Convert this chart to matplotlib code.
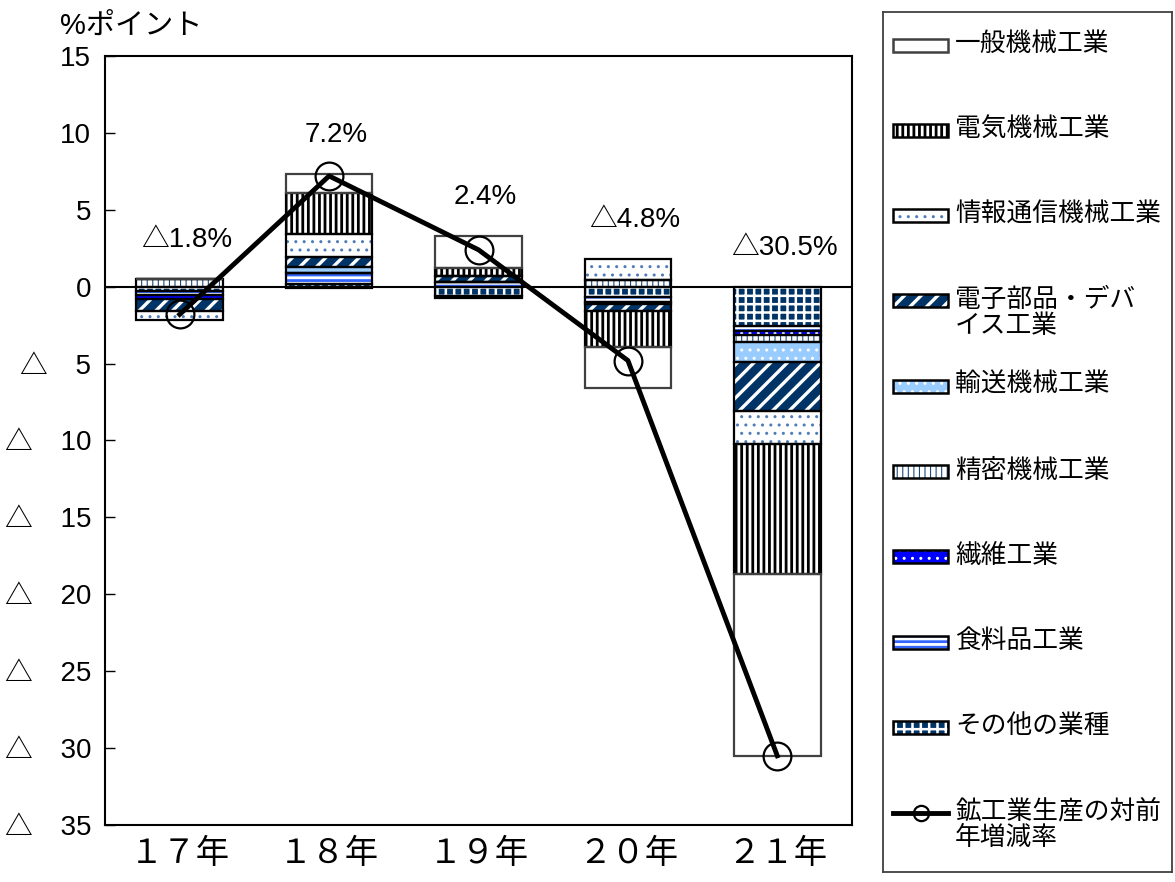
import numpy as np
import matplotlib
matplotlib.use("Agg")
import matplotlib.pyplot as plt
from matplotlib.patches import Rectangle
from matplotlib.lines import Line2D

plt.rcParams['font.family'] = ['Noto Sans CJK JP', 'DejaVu Sans']
plt.rcParams['hatch.linewidth'] = 1.5
NUMFONT = ['Liberation Sans', 'Noto Sans CJK JP']

years = ['１７年', '１８年', '１９年', '２０年', '２１年']
industries = ['一般機械工業', '電気機械工業', '情報通信機械工業', '電子部品・デバ\nイス工業',
              '輸送機械工業', '精密機械工業', '繊維工業', '食料品工業', 'その他の業種']

# contributions (%pt) per industry, years 17..21
ippan = [0.0, 1.25, 2.1, -2.7, -11.8]
denki = [0.0, 2.65, 0.5, -2.3, -8.5]
joho = [-0.6, 1.55, 0.0, 1.35, -2.1]
denshi = [-0.75, 0.65, 0.4, -0.45, -3.2]
yuso = [0.0, 0.35, 0.0, 0.0, -1.3]
seimitsu = [0.5, 0.0, 0.0, 0.45, -0.45]
seni = [-0.25, -0.1, -0.15, -0.15, -0.3]
shokuryo = [-0.3, 0.7, 0.3, -0.35, -0.3]
sonota = [-0.25, 0.2, -0.6, -0.65, -2.55]
growth = [-1.8, 7.2, 2.4, -4.8, -30.5]

series = [ippan, denki, joho, denshi, yuso, seimitsu, seni, shokuryo, sonota]

# face, hatch, hatch colour, hatch lw, outline colour
styles = [
    ('white', '', 'white', 1.0, '#404040'),
    ('white', '|||', 'black', 2.0, 'black'),
    ('white', '..', '#4f7cb8', 1.0, 'black'),
    ('#003366', '//', 'white', 2.4, 'black'),
    ('#99ccff', '..', 'white', 1.0, 'black'),
    ('white', '|||', '#1f497d', 0.8, 'black'),
    ('#0000ff', '..', 'white', 1.0, 'black'),
    ('white', '---', '#3366ff', 2.0, 'black'),
    ('#003366', '++', 'white', 1.8, 'black'),
]

fig = plt.figure(figsize=(11.75, 8.82), dpi=100)
ax = fig.add_axes([105/1175, 1-825/882, 747/1175, 769/882])

x = np.arange(len(years))
w = 0.58
pos_bottom = np.zeros(len(years))
neg_bottom = np.zeros(len(years))

# excel stacks the last series nearest the axis
for vals, st in reversed(list(zip(series, styles))):
    v = np.array(vals)
    bottom = np.where(v >= 0, pos_bottom, neg_bottom)
    face, hatch, hcol, hlw, ecol = st
    with plt.rc_context({'hatch.linewidth': hlw}):
        ax.bar(x, v, w, bottom=bottom, color=face, hatch=hatch, edgecolor=hcol, linewidth=0, zorder=2)
    ax.bar(x, v, w, bottom=bottom, fill=False, edgecolor=ecol, linewidth=1.6, zorder=3)
    pos_bottom = pos_bottom + np.where(v >= 0, v, 0)
    neg_bottom = neg_bottom + np.where(v < 0, v, 0)

ax.axhline(0, color='black', lw=1.5, zorder=1)
ax.plot(x, growth, color='black', lw=3.5, marker='o', ms=20, mfc='none', mec='black', mew=1.6, zorder=5)

for xi, g, top in zip(x, growth, pos_bottom):
    lab = ('△%.1f%%' % abs(g)) if g < 0 else ('%.1f%%' % g)
    ax.annotate(lab, (xi, max(top, g)), xytext=(5, 28), textcoords='offset points',
                ha='center', va='center', fontsize=20, family=NUMFONT)

ax.set_xlim(-0.5, 4.5)
ax.set_ylim(-35, 15)
yt = np.arange(15, -36, -5)
ax.set_yticks(yt)
ax.set_yticklabels([str(t) if t >= 0 else '△\u3000%d' % -t for t in yt], fontsize=20, family=NUMFONT)
ax.tick_params(axis='y', direction='in', length=7, width=1, pad=10)
ax.set_xticks(x)
ax.set_xticklabels(years, fontsize=24)
ax.tick_params(axis='x', length=0, pad=8)
for s in ax.spines.values():
    s.set_linewidth(1.5)

fig.text(60/1175, 1-26/882, '%ポイント', fontsize=21, va='center', ha='left', family=NUMFONT)

# legend box drawn by hand, Excel spacing
lax = fig.add_axes([883/1175, 1-872/882, 289/1175, 860/882])
lax.set_xlim(0, 289)
lax.set_ylim(860, 0)
lax.set_xticks([])
lax.set_yticks([])
for s in lax.spines.values():
    s.set_linewidth(1.3)
    s.set_edgecolor('#404040')

for i, (name, st) in enumerate(zip(industries, styles)):
    yc = 33 + i * 85.3
    face, hatch, hcol, hlw, ecol = st
    with plt.rc_context({'hatch.linewidth': hlw}):
        lax.add_patch(Rectangle((10, yc - 6.5), 55, 13, facecolor=face, hatch=hatch, edgecolor=hcol, linewidth=0))
    lax.add_patch(Rectangle((10, yc - 6.5), 55, 13, fill=False, edgecolor=ecol, linewidth=1.8))
    lax.text(72, yc - 14, name, fontsize=18.5, va='top', ha='left', linespacing=1.0)

yc = 33 + 9 * 85.3
lax.add_line(Line2D([10, 65], [yc, yc], color='black', lw=3.5))
lax.plot([37.5], [yc], marker='o', ms=11, mfc='none', mec='black', mew=1.6)
lax.text(72, yc - 14, '鉱工業生産の対前\n年増減率', fontsize=18.5, va='top', ha='left', linespacing=1.0)

fig.savefig('out.png', dpi=100)
